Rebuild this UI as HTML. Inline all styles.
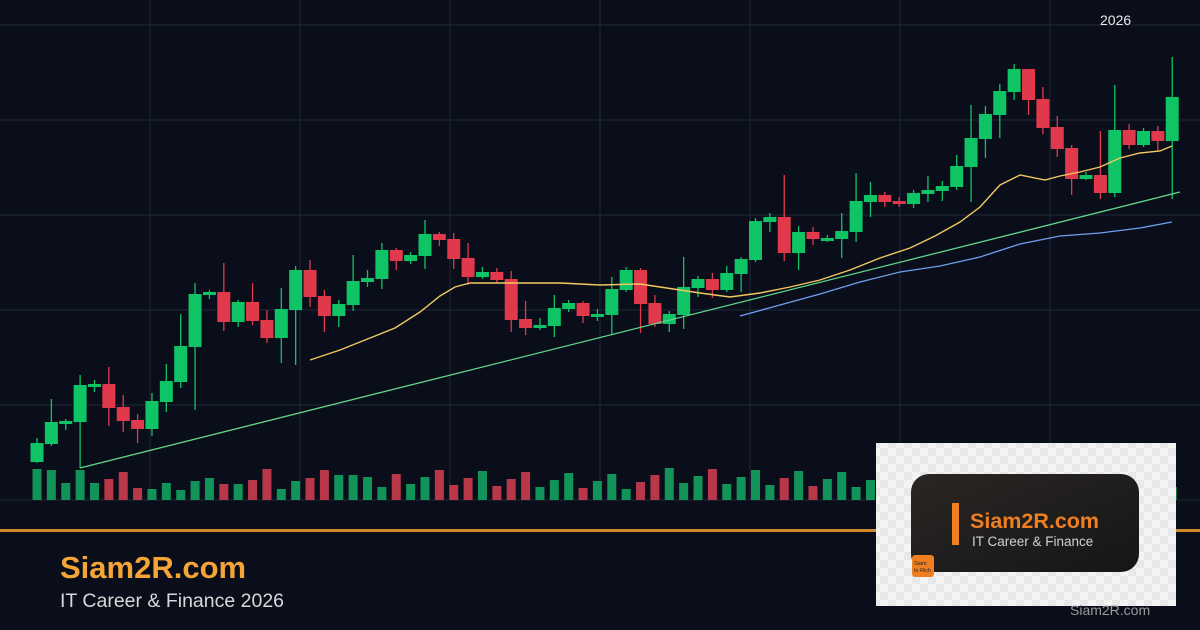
<!DOCTYPE html>
<html><head><meta charset="utf-8"><style>
html,body{margin:0;padding:0;background:#0a0e1a;}
#w{position:relative;width:1200px;height:630px;overflow:hidden;background:#0a0e1a;font-family:"Liberation Sans",sans-serif;}
svg{position:absolute;left:0;top:0;}
</style></head><body><div id="w">
<svg id="s" width="1200" height="630" xmlns="http://www.w3.org/2000/svg">
<defs>
<pattern id="chk" width="16" height="16" patternUnits="userSpaceOnUse">
<rect width="16" height="16" fill="#f4f4f4"/><rect width="8" height="8" fill="#e8e8e8"/><rect x="8" y="8" width="8" height="8" fill="#e8e8e8"/>
</pattern>
<linearGradient id="dg" x1="0" y1="0" x2="1" y2="1"><stop offset="0" stop-color="#2a2624"/><stop offset="1" stop-color="#161616"/></linearGradient>
</defs>
<g id="grid" stroke="#232838" stroke-width="1"></g>
<g id="vol"></g>
<g id="c"></g>
<polyline fill="none" stroke="#5fd68a" stroke-width="1.3" points="80,468 1180,192"/>
<polyline fill="none" stroke="#f3c860" stroke-width="1.4" points="310,360 340,350 370,338 395,328 420,312 440,296 455,287 470,283 490,283 520,283 560,283 600,285 640,284 680,290 700,293 730,297 760,293 790,287 820,280 850,270 880,258 910,248 935,236 960,222 980,207 1000,185 1020,175 1045,180 1060,176 1080,172 1100,167 1120,158 1140,153 1160,151 1172,146"/>
<polyline fill="none" stroke="#6f9ef0" stroke-width="1.3" points="740,316 780,305 820,294 860,282 900,272 940,266 980,257 1020,244 1060,236 1100,233 1140,228 1172,222"/>
<rect x="0" y="529" width="1200" height="3" fill="#d08a2a"/>
<text x="1100" y="25" fill="#e8e8e8" font-size="14">2026</text>
<text x="60" y="578" fill="#f5a535" font-size="31" font-weight="bold">Siam2R.com</text>
<text x="60" y="607" fill="#d8d8d8" font-size="19.5">IT Career &amp; Finance 2026</text>
<rect x="876" y="443" width="300" height="163" fill="url(#chk)"/>
<rect x="911" y="474" width="228" height="98" rx="18" fill="url(#dg)"/>
<rect x="952" y="503" width="7" height="42" fill="#f07f20"/>
<text x="970" y="528" fill="#f07f20" font-size="21.5" font-weight="bold">Siam2R.com</text>
<text x="972" y="546" fill="#d0d0d0" font-size="13.5">IT Career &amp; Finance</text>
<rect x="912" y="555" width="22" height="22" rx="3" fill="#f07f20"/>
<text x="914" y="565" fill="#222" font-size="5.5">Siam</text>
<text x="914" y="572" fill="#222" font-size="5.5">to Rich</text>
<text x="1070" y="615" fill="#9a9a9a" font-size="14">Siam2R.com</text>
</svg></div>
<script>
(function(){
var d=[[443,462,438,463],[422,444,399,446],[421,424,419,430],[385,422,375,468],[384,387,380,392],[408,384,367,426],[421,407,395,432],[429,420,414,443],[401,429,393,436],[381,402,364,412],[346,382,314,388],[294,347,283,410],[292,295,290,299],[322,292,263,331],[302,322,300,327],[321,302,283,325],[338,320,310,343],[309,338,288,363],[270,310,266,365],[297,270,260,307],[316,296,290,332],[304,316,300,327],[281,305,255,311],[278,282,270,287],[250,279,243,289],[261,250,248,270],[255,261,252,264],[234,256,220,269],[240,234,232,246],[259,239,233,269],[277,258,243,285],[272,277,267,279],[280,272,268,283],[320,279,271,332],[328,319,301,335],[325,328,318,330],[308,326,295,337],[303,309,300,312],[316,303,301,323],[314,317,309,321],[289,315,277,334],[270,290,267,292],[304,270,268,333],[324,303,295,327],[314,324,311,332],[287,315,257,329],[279,288,276,297],[290,279,273,298],[273,290,266,292],[259,274,257,292],[221,260,218,262],[217,222,213,232],[253,217,175,261],[232,253,226,270],[239,232,227,245],[238,241,235,242],[231,239,213,258],[201,232,173,242],[195,202,182,217],[202,195,192,207],[204,201,197,207],[193,204,190,208],[190,194,176,202],[186,191,181,201],[166,187,155,190],[138,167,105,202],[114,139,106,158],[91,115,84,138],[69,92,64,100],[100,69,69,115],[128,99,87,134],[149,127,116,157],[179,148,145,195],[175,179,172,180],[193,175,131,199],[130,193,85,197],[145,130,124,149],[131,145,128,147],[141,131,126,151],[97,141,57,199]];
var vh=[469,470,483,470,483,479,472,488,489,483,490,481,478,484,484,480,469,489,481,478,470,475,475,477,487,474];
var ns='http://www.w3.org/2000/svg';
function el(g,t,a){var e=document.createElementNS(ns,t);for(var k in a)e.setAttribute(k,a[k]);document.getElementById(g).appendChild(e);}
[25,120,215,310,405,500].forEach(function(y){el('grid','line',{x1:0,x2:1200,y1:y,y2:y});});
[150,300,450,600,750,900,1050].forEach(function(x){el('grid','line',{x1:x,x2:x,y1:0,y2:500});});
for(var i=0;i<d.length;i++){
 var c=d[i],x=37+i*14.37,up=c[0]<=c[1];
 var t0=Math.min(c[0],c[1]),b0=Math.max(c[0],c[1]);
 var col=up?'#0fc465':'#e0394b';
 el('c','line',{x1:x,x2:x,y1:c[2],y2:c[3],stroke:col,'stroke-width':1.3});
 el('c','rect',{x:x-6.5,y:t0,width:13,height:Math.max(b0-t0,2.5),fill:col});
 var vt=i<vh.length?vh[i]:(468+((i*37)%22));
 el('vol','rect',{x:x-4.5,y:vt,width:9,height:500-vt,fill:up?'#12935a':'#b8384a'});
}
})();
</script>
</body></html>
